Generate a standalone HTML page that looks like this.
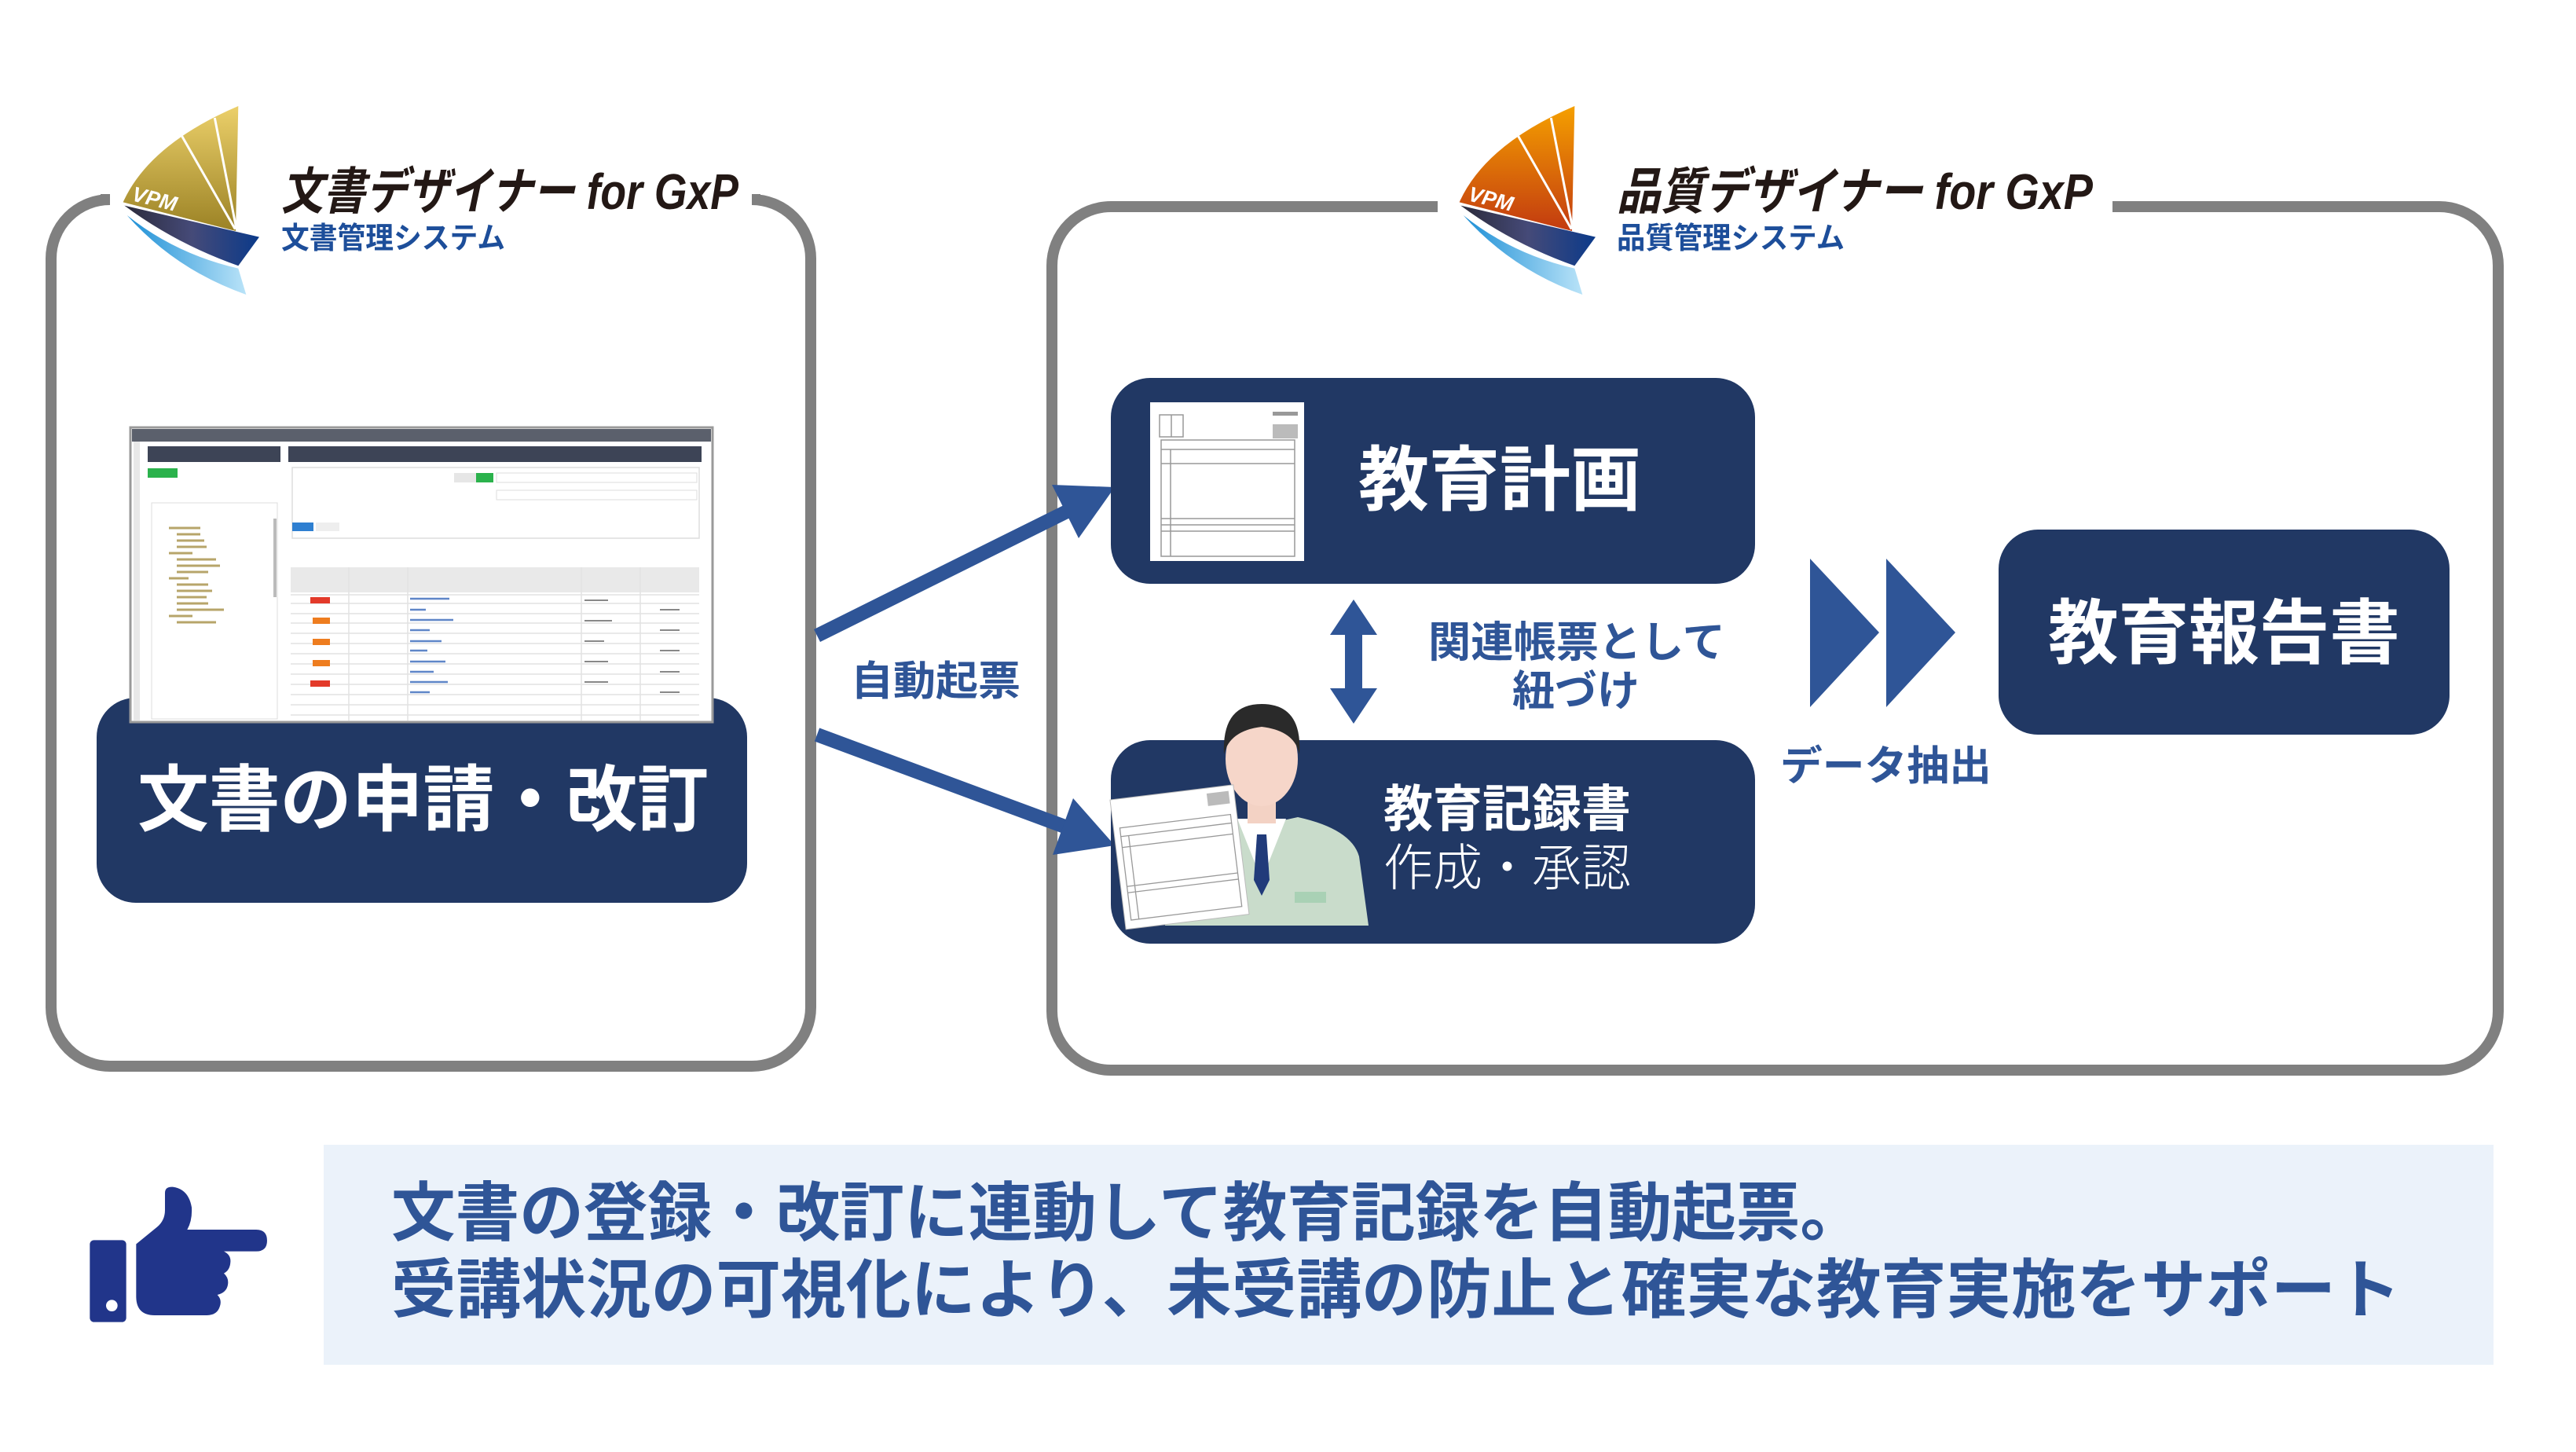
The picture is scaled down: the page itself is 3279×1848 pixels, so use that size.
<!DOCTYPE html>
<html><head><meta charset="utf-8"><style>
html,body{margin:0;padding:0;background:#fff}
svg{display:block}
text{font-family:"Liberation Sans","Noto Sans CJK JP",sans-serif}
</style></head><body>
<svg width="3279" height="1848" viewBox="0 0 3279 1848" xmlns="http://www.w3.org/2000/svg">
<defs>
<linearGradient id="gold" x1="0" y1="0" x2="0" y2="1"><stop offset="0" stop-color="#ecd06a"/><stop offset="1" stop-color="#9b8225"/></linearGradient>
<linearGradient id="orng" x1="0" y1="0" x2="0" y2="1"><stop offset="0" stop-color="#f5a000"/><stop offset="1" stop-color="#c23a10"/></linearGradient>
<linearGradient id="hull" x1="0" y1="0" x2="1" y2="0"><stop offset="0" stop-color="#2b2a3a"/><stop offset="0.5" stop-color="#454a78"/><stop offset="1" stop-color="#0b3a8a"/></linearGradient>
<linearGradient id="wave" x1="0" y1="0" x2="1" y2="0"><stop offset="0" stop-color="#1d8fd6"/><stop offset="1" stop-color="#b9e3f8"/></linearGradient>
<g id="hullg">
<path d="M55,425 L570,545 L490,655 Q250,570 55,425Z" fill="url(#hull)"/>
<path d="M65,462 Q250,610 490,665 L520,765 Q250,670 65,462Z" fill="url(#wave)"/>
</g>
</defs>

<path d="M968,254 H957 A75,75 0 0 1 1032,329 V1282 A75,75 0 0 1 957,1357 H140 A75,75 0 0 1 65,1282 V329 A75,75 0 0 1 140,254 H128" fill="none" stroke="#808080" stroke-width="14"/>
<path d="M2689,263 H3105 A75,75 0 0 1 3180,338 V1287 A75,75 0 0 1 3105,1362 H1414 A75,75 0 0 1 1339,1287 V338 A75,75 0 0 1 1414,263 H1830" fill="none" stroke="#808080" stroke-width="14"/>

<g transform="translate(140,120) scale(0.3333)">
<path d="M50,412 Q150,190 490,45 L480,522 Z" fill="url(#gold)"/>
<path d="M275,160 L478,515 M400,90 L483,515" stroke="#fff" stroke-width="9" fill="none"/>
<use href="#hullg"/>
<text x="80" y="405" font-size="80" font-style="italic" font-weight="bold" fill="#fff" transform="rotate(14 80 405)">VPM</text>
</g>
<text x="358" y="266" font-size="64" font-style="italic" font-weight="bold" fill="#231815" textLength="582" lengthAdjust="spacingAndGlyphs">文書デザイナー for GxP</text>
<text x="358" y="316" font-size="38" font-weight="bold" fill="#1d4e9a" textLength="285" lengthAdjust="spacingAndGlyphs">文書管理システム</text>

<g transform="translate(1841,120) scale(0.3333)">
<path d="M50,412 Q150,190 490,45 L480,522 Z" fill="url(#orng)"/>
<path d="M275,160 L478,515 M400,90 L483,515" stroke="#fff" stroke-width="9" fill="none"/>
<use href="#hullg"/>
<text x="80" y="405" font-size="80" font-style="italic" font-weight="bold" fill="#fff" transform="rotate(14 80 405)">VPM</text>
</g>
<text x="2058" y="266" font-size="64" font-style="italic" font-weight="bold" fill="#231815" textLength="606" lengthAdjust="spacingAndGlyphs">品質デザイナー for GxP</text>
<text x="2058" y="316" font-size="38" font-weight="bold" fill="#1d4e9a" textLength="290" lengthAdjust="spacingAndGlyphs">品質管理システム</text>

<rect x="123" y="888" width="828" height="261" rx="50" fill="#213864"/>
<g>
<rect x="166" y="544" width="741" height="375" fill="#fff" stroke="#9a9a9a" stroke-width="3"/>
<rect x="168" y="546" width="737" height="16" fill="#5b606c"/>
<rect x="170" y="562" width="8" height="355" fill="#e8e8e8"/>
<rect x="188" y="568" width="169" height="20" fill="#3d4456"/>
<rect x="367" y="568" width="526" height="20" fill="#3d4456"/>
<rect x="188" y="596" width="38" height="12" fill="#2bb24c"/>
<rect x="372" y="595" width="518" height="90" fill="none" stroke="#ddd" stroke-width="1.5"/>
<rect x="578" y="602" width="28" height="12" fill="#e6e6e6"/><rect x="606" y="602" width="22" height="12" fill="#2bb24c"/>
<rect x="632" y="602" width="255" height="12" fill="none" stroke="#ddd"/>
<rect x="632" y="624" width="255" height="12" fill="none" stroke="#ddd"/>
<rect x="372" y="665" width="27" height="11" fill="#2e7fd1"/><rect x="402" y="665" width="30" height="11" fill="#eee"/>
<rect x="193" y="640" width="160" height="275" fill="none" stroke="#ddd"/>
<rect x="348" y="660" width="4" height="100" fill="#bbb"/>
<g stroke="#b7a56a" stroke-width="3">
<path d="M215,672h40M225,680h30M225,688h35M225,696h38M215,704h30M225,712h50M225,720h55M225,728h40M215,736h25M225,744h40M225,752h45M225,760h38M225,768h40M225,776h60M215,784h30M225,792h50"/>
</g>
<rect x="370" y="722" width="520" height="32" fill="#e9e9e9"/>
<g stroke="#e2e2e2" stroke-width="1.5">
<path d="M370,757h520M370,768h520M370,781h520M370,793h520M370,806h520M370,819h520M370,832h520M370,845h520M370,858h520M370,871h520M370,884h520M370,897h520M370,910h520"/>
<path d="M444,722v195M519,722v195M740,722v195M815,722v195"/>
</g>
<g fill="#e33a2a"><rect x="395" y="760" width="25" height="8"/><rect x="395" y="866" width="25" height="8"/></g>
<g fill="#ee7d1f"><rect x="398" y="786" width="22" height="8"/><rect x="398" y="813" width="22" height="8"/><rect x="398" y="840" width="22" height="8"/></g>
<g stroke="#5f86c8" stroke-width="2.5"><path d="M522,762h50M522,789h55M522,816h40M522,842h45M522,868h48M522,776h20M522,802h25M522,828h22M522,855h30M522,881h25"/></g>
<g stroke="#888" stroke-width="2"><path d="M744,764h30M744,790h35M744,816h25M744,842h30M744,868h30M840,776h25M840,802h25M840,828h25M840,855h25M840,881h25"/></g>
</g>
<text x="175" y="1050" font-size="92" font-weight="bold" fill="#fff" textLength="727" lengthAdjust="spacingAndGlyphs">文書の申請・改訂</text>

<g fill="#2f5597" stroke="#2f5597">
<line x1="1040" y1="809" x2="1360" y2="650" stroke-width="18"/>
<polygon points="1419,620 1373,685 1339,617" stroke="none"/>
<line x1="1040" y1="935" x2="1358" y2="1053" stroke-width="18"/>
<polygon points="1419,1076 1340,1088 1366,1016" stroke="none"/>
</g>
<text x="1083" y="885" font-size="52" font-weight="bold" fill="#2f5597" textLength="216" lengthAdjust="spacingAndGlyphs">自動起票</text>

<rect x="1414" y="481" width="820" height="262" rx="50" fill="#213864"/>
<rect x="1464" y="512" width="196" height="202" fill="#fff"/>
<g stroke="#999" stroke-width="1.5" fill="none">
<rect x="1478" y="560" width="170" height="148"/>
<path d="M1478,572h170M1478,590h170M1478,660h170M1478,668h170M1478,676h170M1490,572v136"/>
<rect x="1476" y="528" width="30" height="28"/>
<path d="M1491,528v28"/>
</g>
<rect x="1620" y="524" width="32" height="5" fill="#999"/>
<rect x="1620" y="540" width="32" height="18" fill="#bbb"/>
<text x="1729" y="642" font-size="90" font-weight="bold" fill="#fff" textLength="360" lengthAdjust="spacingAndGlyphs">教育計画</text>

<polygon points="1723,763 1753,808 1734,808 1734,876 1753,876 1723,921 1693,876 1712,876 1712,808 1693,808" fill="#2f5597"/>
<text x="1818" y="836" font-size="54" font-weight="bold" fill="#2f5597" textLength="378" lengthAdjust="spacingAndGlyphs">関連帳票として</text>
<text x="1925" y="898" font-size="54" font-weight="bold" fill="#2f5597" textLength="162" lengthAdjust="spacingAndGlyphs">紐づけ</text>

<rect x="1414" y="942" width="820" height="259" rx="50" fill="#213864"/>
<path d="M1483,1178 L1490,1080 Q1500,1050 1560,1040 L1606,1050 L1652,1040 Q1720,1055 1730,1090 L1742,1178Z" fill="#c9dccb"/>
<path d="M1575,1042 L1606,1120 L1637,1042 Z" fill="#fff"/>
<polygon points="1600,1062 1612,1062 1616,1120 1606,1140 1596,1120" fill="#213b7a"/>
<rect x="1588" y="1010" width="36" height="38" fill="#f3d2c4"/>
<ellipse cx="1606" cy="966" rx="46" ry="60" fill="#f6d6c9"/>
<path d="M1558,960 Q1555,896 1606,896 Q1658,896 1654,960 Q1648,930 1606,925 Q1565,930 1558,960Z" fill="#2a2a2a"/>
<rect x="1648" y="1135" width="40" height="14" fill="#a9d1b5"/>
<g transform="rotate(-7 1500 1087)">
<rect x="1422" y="1008" width="158" height="166" fill="#fff" stroke="#bbb"/>
<g stroke="#999" stroke-width="1.3" fill="none"><rect x="1430" y="1045" width="142" height="118"/><path d="M1430,1056h142M1430,1070h142M1430,1120h142M1430,1128h142M1440,1056v107"/></g>
<rect x="1545" y="1015" width="28" height="16" fill="#bbb"/>
</g>
<text x="1761" y="1052" font-size="64" font-weight="bold" fill="#fff" textLength="315" lengthAdjust="spacingAndGlyphs">教育記録書</text>
<text x="1761" y="1127" font-size="64" font-weight="300" fill="#fff" textLength="315" lengthAdjust="spacingAndGlyphs">作成・承認</text>

<polygon points="2304,711 2392,805 2304,900" fill="#2f5597"/>
<polygon points="2401,711 2489,805 2401,900" fill="#2f5597"/>
<text x="2266" y="993" font-size="52" font-weight="bold" fill="#2f5597" textLength="269" lengthAdjust="spacingAndGlyphs">データ抽出</text>

<rect x="2544" y="674" width="574" height="261" rx="50" fill="#213864"/>
<text x="2607" y="837" font-size="90" font-weight="bold" fill="#fff" textLength="448" lengthAdjust="spacingAndGlyphs">教育報告書</text>

<rect x="412" y="1457" width="2762" height="280" fill="#ebf2fa"/>
<text x="498" y="1572" font-size="82" font-weight="bold" fill="#2f5597" textLength="1875" lengthAdjust="spacingAndGlyphs">文書の登録・改訂に連動して教育記録を自動起票。</text>
<text x="498" y="1670" font-size="82" font-weight="bold" fill="#2f5597" textLength="2558" lengthAdjust="spacingAndGlyphs">受講状況の可視化により、未受講の防止と確実な教育実施をサポート</text>

<g transform="translate(100,1450) scale(0.3333)" fill="#21358a">
<rect x="43" y="385" width="139" height="313" rx="16"/>
<circle cx="127" cy="635" r="22" fill="#fff"/>
<path d="M220,400 L300,335 Q330,310 330,270 V205 Q330,180 360,182 Q420,190 432,260 Q435,310 415,345 H678 Q720,345 720,387 Q720,428 678,428 H555 Q583,442 580,470 Q578,500 555,512 Q575,530 570,556 Q565,585 530,594 Q548,612 540,637 Q530,672 490,672 H290 Q220,672 220,600 Z"/>
</g>
</svg>
</body></html>
